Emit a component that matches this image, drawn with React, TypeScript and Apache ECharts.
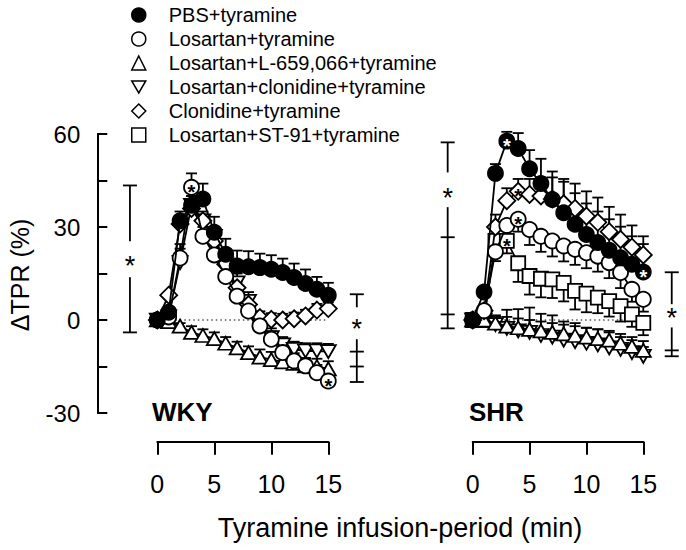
import React, { useEffect, useRef } from "react";
import * as echarts from "echarts";

// ---------- data ----------
const minutes = [0, 1, 2, 3, 4, 5, 6, 7, 8, 9, 10, 11, 12, 13, 14, 15];
const xTicks = [0, 5, 10, 15];
const yLabelValues = [60, 30, 0, -30];

const seriesNames = [
  "PBS+tyramine",
  "Losartan+tyramine",
  "Losartan+L-659,066+tyramine",
  "Losartan+clonidine+tyramine",
  "Clonidine+tyramine",
  "Losartan+ST-91+tyramine",
];

// WKY panel (ΔTPR %)
const wkyPBS = [0, 2.5, 32, 37, 39, 28.3, 21.2, 17.4, 17.2, 16.9, 16.4, 15.3, 13.7, 11.8, 9.9, 8.0];
const wkyLos = [0, 1, 20, 42.8, 27, 21, 14, 7.7, 2.9, -1.9, -6.2, -10.5, -13.2, -14.8, -17, -19.7];
const wkyL659 = [0, -0.5, -2, -4, -5, -6, -7.5, -9, -10.5, -12, -12.8, -13.5, -14, -14.8, -15, -15.8];
const wkyLosClon = [0, 1, 18.5, 37, 32, 27, 18, 12, 6, -2, -5.7, -8, -9.5, -10, -10, -10.2];
const wkyClon = [0, 8, 31, 36, 32, 25.5, 18, 10.4, 5, 0.8, 0.2, 0, 0.4, 1.3, 3.2, 3.7];

const wkyPBSErr = [0, 0, 3, 3, 5, 5, 5, 5, 5, 4.5, 4.5, 4.5, 4.5, 4.5, 4, 4];
const wkyLosErr = [0, 0, 3, 4.5, 3, 3, 3, 3, 3, 3, 2.5, 2.5, 2.5, 2.5, 2.5, 2.5];
const wkyL659Err = [0, 0, 1, 2, 2, 2, 2, 2, 2, 2.5, 2.5, 2.5, 2.5, 2.5, 2.5, 2.5];
const wkyLosClonErr = [0, 0, 6, 3, 3, 3, 3, 3, 3, 3, 3, 2.5, 2.5, 2.5, 2.5, 2.5];
const wkyClonErr = [0, 0, 2, 2, 2, 2, 2, 2, 2, 2, 2, 2, 2, 2, 2, 2];

// SHR panel (ΔTPR %)
const shrPBS = [0, 9, 47.3, 57.7, 55.3, 48.8, 44, 38.9, 34.6, 30.9, 27.6, 25, 22.5, 20.1, 18, 15.5];
const shrLos = [0, 3, 22, 30.5, 32.5, 29.2, 27, 25.5, 23.9, 22.8, 21.7, 20.6, 18.5, 15.3, 9.9, 6.7];
const shrL659 = [0, 0, -1, -2, -2.5, -3, -3.5, -4, -4.5, -5, -5.5, -6, -6.5, -7.5, -8.5, -9.8];
const shrLosClon = [0, 0, -1.5, -2.7, -3.5, -4, -5, -5.5, -6.5, -7, -7.5, -8, -9, -9.5, -10.5, -11.7];
const shrClon = [0, 3, 30, 38.5, 41.5, 40.5, 40, 39, 37.5, 36, 33.5, 31.5, 28.5, 26, 23.5, 21];
const shrST91 = [0, 0, 25.5, 25.5, 18.3, 14.2, 13.3, 13.1, 12, 9.4, 8.5, 7.2, 6.1, 4.5, 1.8, -0.9];

const shrPBSErr = [0, 0, 3, 3, 5, 6, 8, 9, 10, 10, 10, 10, 10, 10, 9, 9];
const shrLosErr = [0, 0, -3, -4, -4, -5, -5, -5, -5, -5, -5, -5, -5, -5, -4, -4];
const shrL659Err = [0, 0, 2, 3, 3, 3, 3, 3, 3, 3, 3, 3, 3, 3, 3, 3];
const shrLosClonErr = [0, 0, 3, 6, 7, 8, 7, 7, 6, 6, 5, 5, 5, 4, 4, 3];
const shrClonErr = [0, 0, 4, 4, 4, 5, 6, 7, 8, 8, 8, 8, 8, 8, 7, 6];
const shrST91Err = [0, 0, -4, -4, -6, -6, -6, -6, -6, -6, -6, -5, -5, -5, -4, -4];

const wkyValues = [wkyPBS, wkyLos, wkyL659, wkyLosClon, wkyClon, null];
const wkyErrors = [wkyPBSErr, wkyLosErr, wkyL659Err, wkyLosClonErr, wkyClonErr, null];
const shrValues = [shrPBS, shrLos, shrL659, shrLosClon, shrClon, shrST91];
const shrErrors = [shrPBSErr, shrLosErr, shrL659Err, shrLosClonErr, shrClonErr, shrST91Err];

// asterisks inside markers: [series index, minute]
const wkyStarMarks = [[1, 3], [1, 15]];
const shrStarMarks = [[0, 3], [0, 15], [1, 4], [5, 3], [4, 4]];

// significance brackets (x in minutes, values in %)
const wkyBrackets = [
  { x: -2.4, ticks: [43.4, -4], star: 19.6, gap: [25.4, 13.8] },
  { x: 17.5, ticks: [8.3, -10.2, -15, -20], star: -0.7, gap: [4.1, -6.2] },
];
const shrBrackets = [
  { x: -2.2, ticks: [57.3, 26.7, 1.8, -2.7], star: 41.5, gap: [47.6, 36.4] },
  { x: 17.5, ticks: [15.4, -9.8, -11.7], star: 2.8, gap: [5.1, -2.4] },
];

// ---------- styles ----------
const FONT = "'Liberation Sans', Arial, sans-serif";
const TRI_DOWN = "path://M0,0L14,0L7,12Z";
const LW = 1.8;
const styles = [
  { symbol: "circle", size: 15, fill: "#000", z: 9, legendIcon: "circle" },
  { symbol: "circle", size: 15, fill: "#fff", z: 8, legendIcon: "circle" },
  { symbol: "triangle", size: [15, 13], fill: "#fff", z: 6, legendIcon: "triangle" },
  { symbol: TRI_DOWN, size: [15, 13], fill: "#fff", z: 5, legendIcon: TRI_DOWN },
  { symbol: "diamond", size: 17, fill: "#fff", z: 7, legendIcon: "diamond" },
  { symbol: "rect", size: 14, fill: "#fff", z: 4, legendIcon: "rect" },
];

function buildPanel(panel: number, values: any[], errors: any[], stars: number[][], brackets: any[]) {
  const out: any[] = [];
  out.push({
    type: "line",
    xAxisIndex: panel,
    yAxisIndex: panel,
    data: [[minutes[0], 0], [minutes[minutes.length - 1], 0]],
    symbol: "none",
    lineStyle: { color: "#000", width: 1, type: [1.5, 3] },
    z: 1,
    silent: true,
  });
  const errData: any[] = [];
  values.forEach((vals, s) => {
    if (!vals) return;
    const st = styles[s];
    out.push({
      type: "line",
      name: seriesNames[s],
      xAxisIndex: panel,
      yAxisIndex: panel,
      data: minutes.map((t, i) => [t, vals[i]]),
      symbol: st.symbol,
      symbolSize: st.size,
      showSymbol: true,
      showAllSymbol: true,
      clip: false,
      itemStyle: { color: st.fill, borderColor: "#000", borderWidth: LW },
      lineStyle: { color: "#000", width: LW },
      z: st.z,
      silent: true,
    });
    const errs = errors[s];
    minutes.forEach((t, i) => {
      if (errs[i] !== 0) errData.push([t, vals[i], errs[i]]);
    });
  });
  out.push({
    type: "custom",
    xAxisIndex: panel,
    yAxisIndex: panel,
    data: errData,
    clip: false,
    silent: true,
    z: 2,
    encode: { x: 0, y: 1 },
    renderItem: (params: any, api: any) => {
      const x = api.value(0), y = api.value(1), e = api.value(2);
      const p0 = api.coord([x, y]);
      const p1 = api.coord([x, y + e]);
      const hw = 5.5;
      return {
        type: "group",
        children: [
          { type: "line", shape: { x1: p0[0], y1: p0[1], x2: p1[0], y2: p1[1] }, style: { stroke: "#000", lineWidth: LW } },
          { type: "line", shape: { x1: p1[0] - hw, y1: p1[1], x2: p1[0] + hw, y2: p1[1] }, style: { stroke: "#000", lineWidth: LW } },
        ],
      };
    },
  });
  out.push({
    type: "custom",
    xAxisIndex: panel,
    yAxisIndex: panel,
    data: stars.map(([s, t]) => [t, values[s][minutes.indexOf(t)], s]),
    clip: false,
    silent: true,
    z: 20,
    encode: { x: 0, y: 1 },
    renderItem: (params: any, api: any) => {
      const p = api.coord([api.value(0), api.value(1)]);
      const s = api.value(2);
      return {
        type: "text",
        x: p[0],
        y: p[1] + 5,
        style: {
          text: "*",
          fill: styles[s].fill === "#000" ? "#fff" : "#000",
          font: `bold 20px ${FONT}`,
          align: "center",
          verticalAlign: "middle",
        },
      };
    },
  });
  out.push({
    type: "custom",
    xAxisIndex: panel,
    yAxisIndex: panel,
    data: brackets.map((b) => [b.x, b.star]),
    clip: false,
    silent: true,
    z: 2,
    encode: { x: 0, y: 1 },
    renderItem: (params: any, api: any) => {
      const b = brackets[params.dataIndex];
      const px = api.coord([b.x, 0])[0];
      const yTop = api.coord([b.x, b.ticks[0]])[1];
      const yBot = api.coord([b.x, b.ticks[b.ticks.length - 1]])[1];
      const g0 = api.coord([b.x, b.gap[0]])[1];
      const g1 = api.coord([b.x, b.gap[1]])[1];
      const ys = api.coord([b.x, b.star])[1];
      const hw = 7;
      const ls = { stroke: "#000", lineWidth: LW };
      const children: any[] = [
        { type: "line", shape: { x1: px, y1: yTop, x2: px, y2: g0 }, style: ls },
        { type: "line", shape: { x1: px, y1: g1, x2: px, y2: yBot }, style: ls },
        {
          type: "text",
          x: px,
          y: ys + 7,
          style: { text: "*", fill: "#000", font: `27px ${FONT}`, align: "center", verticalAlign: "middle" },
        },
      ];
      b.ticks.forEach((v: number) => {
        const yy = api.coord([b.x, v])[1];
        children.push({ type: "line", shape: { x1: px - hw, y1: yy, x2: px + hw, y2: yy }, style: ls });
      });
      return { type: "group", children };
    },
  });
  return out;
}

export default function App() {
  const ref = useRef<HTMLDivElement>(null);
  useEffect(() => {
    if (!ref.current) return;
    const chart = echarts.init(ref.current, undefined, { renderer: "svg" });
    const axisLineStyle = { color: "#000", width: 2 };
    const hiddenX = {
      type: "value",
      min: xTicks[0],
      max: xTicks[xTicks.length - 1],
      interval: 5,
      show: false,
    };
    const shownX = {
      type: "value",
      min: xTicks[0],
      max: xTicks[xTicks.length - 1],
      interval: 5,
      position: "bottom",
      splitLine: { show: false },
      axisLine: { show: true, onZero: false, lineStyle: axisLineStyle },
      axisTick: { show: true, inside: false, length: 13, lineStyle: axisLineStyle },
      axisLabel: { fontSize: 25, color: "#000", fontFamily: FONT, margin: 30 },
    };
    const hiddenY = { type: "value", min: -30, max: 60, interval: 15, show: false };
    const option: any = {
      animation: false,
      textStyle: { fontFamily: FONT },
      grid: [
        { left: 157.3, width: 171, top: 134, height: 279 },
        { left: 472.7, width: 170.6, top: 134, height: 279 },
        { left: 157.3, width: 171, top: 134, height: 307.7 },
        { left: 472.7, width: 170.6, top: 134, height: 307.7 },
      ],
      xAxis: [
        { ...hiddenX, gridIndex: 0 },
        { ...hiddenX, gridIndex: 1 },
        { ...shownX, gridIndex: 2 },
        { ...shownX, gridIndex: 3 },
      ],
      yAxis: [
        {
          type: "value",
          gridIndex: 0,
          min: -30,
          max: 60,
          interval: 15,
          offset: 60,
          position: "left",
          splitLine: { show: false },
          axisLine: { show: true, onZero: false, lineStyle: axisLineStyle },
          axisTick: { show: true, inside: true, length: 10, lineStyle: axisLineStyle },
          axisLabel: {
            fontSize: 24,
            color: "#000",
            fontFamily: FONT,
            margin: 17,
            formatter: (v: number) => (yLabelValues.indexOf(v) >= 0 ? String(v) : ""),
          },
        },
        { ...hiddenY, gridIndex: 1 },
        { ...hiddenY, gridIndex: 2 },
        { ...hiddenY, gridIndex: 3 },
      ],
      legend: {
        orient: "vertical",
        left: 131,
        top: 5,
        padding: 0,
        itemWidth: 14,
        itemHeight: 14,
        itemGap: 4,
        selectedMode: false,
        itemStyle: { borderWidth: 1.5 },
        textStyle: { fontSize: 20, color: "#000", fontFamily: FONT, lineHeight: 20, padding: [0, 0, 0, 18] },
        data: seriesNames.map((n, i) => ({ name: n, icon: styles[i].legendIcon })),
      },
      graphic: [
        {
          type: "text",
          x: 20,
          y: 275,
          rotation: Math.PI / 2,
          style: { text: "ΔTPR (%)", font: `25px ${FONT}`, fill: "#000", align: "center", verticalAlign: "middle" },
        },
        {
          type: "text",
          x: 400,
          y: 528,
          style: {
            text: "Tyramine infusion-period (min)",
            font: `27px ${FONT}`,
            fill: "#000",
            align: "center",
            verticalAlign: "middle",
          },
        },
        {
          type: "text",
          x: 152,
          y: 412,
          style: { text: "WKY", font: `bold 26px ${FONT}`, fill: "#000", align: "left", verticalAlign: "middle" },
        },
        {
          type: "text",
          x: 469,
          y: 412,
          style: { text: "SHR", font: `bold 26px ${FONT}`, fill: "#000", align: "left", verticalAlign: "middle" },
        },
      ],
      series: [
        ...buildPanel(0, wkyValues, wkyErrors, wkyStarMarks, wkyBrackets),
        ...buildPanel(1, shrValues, shrErrors, shrStarMarks, shrBrackets),
      ],
    };
    chart.setOption(option);
    return () => chart.dispose();
  }, []);
  return (
    <div
      ref={ref}
      style={{ position: "fixed", left: 0, top: 0, width: 686, height: 550, background: "#fff" }}
    />
  );
}
